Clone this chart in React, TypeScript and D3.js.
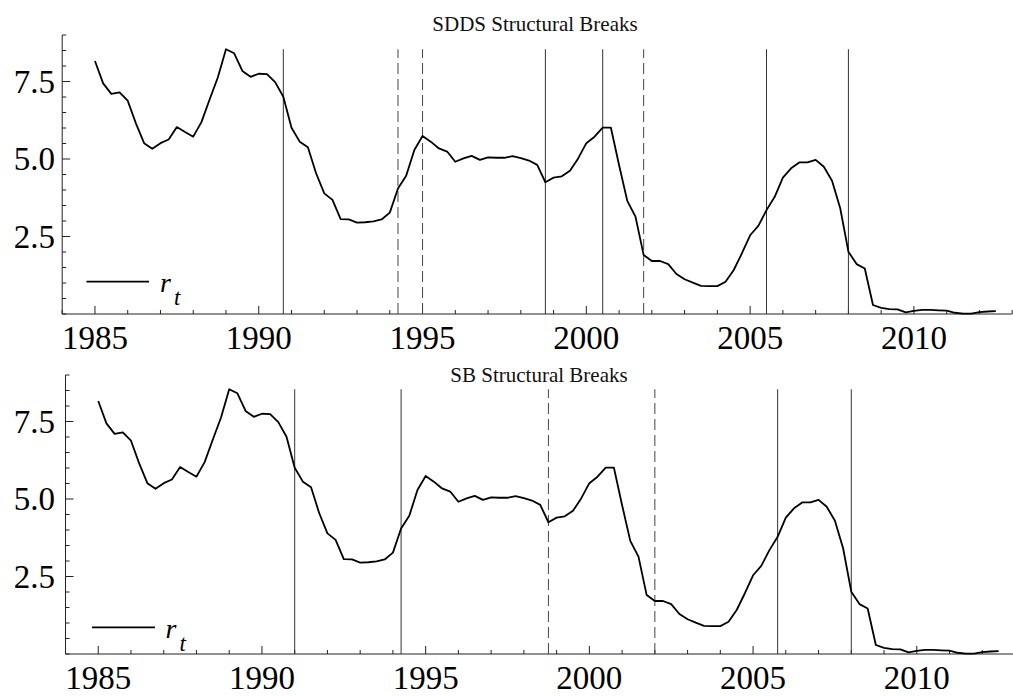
import React from "react";
import * as d3 from "d3";

// quarterly rate r_t, 1985Q1 .. 2012Q3
const startYear = 1985;
const rates: number[] = [
  8.16, 7.44, 7.10, 7.15,
  6.88, 6.15, 5.51, 5.33,
  5.51, 5.63, 6.03, 5.87,
  5.72, 6.19, 6.92, 7.63,
  8.54, 8.41, 7.84, 7.65,
  7.75, 7.74, 7.48, 7.01,
  6.01, 5.56, 5.38, 4.54,
  3.89, 3.68, 3.06, 3.05,
  2.95, 2.96, 2.99, 3.05,
  3.27, 4.05, 4.46, 5.29,
  5.74, 5.56, 5.34, 5.24,
  4.91, 5.02, 5.10, 4.97,
  5.05, 5.04, 5.04, 5.09,
  5.03, 4.95, 4.81, 4.25,
  4.40, 4.44, 4.62, 5.02,
  5.51, 5.72, 6.01, 6.01,
  4.80, 3.65, 3.14, 1.90,
  1.71, 1.71, 1.61, 1.29,
  1.12, 1.01, 0.91, 0.90,
  0.90, 1.04, 1.42, 1.96,
  2.54, 2.84, 3.35, 3.78,
  4.40, 4.70, 4.89, 4.89,
  4.97, 4.75, 4.30, 3.41,
  2.01, 1.61, 1.47, 0.29,
  0.20, 0.16, 0.15, 0.05,
  0.10, 0.13, 0.13, 0.12,
  0.11, 0.04, 0.01, 0.01,
  0.06, 0.08, 0.09,
];
const dates: number[] = rates.map((_, i) => startYear + i / 4);

const sddsSolid: number[] = [1990.75, 1998.75, 2000.5, 2005.5, 2008.0];
const sddsDashed: number[] = [1994.25, 1995.0, 2001.75];
const sbSolid: number[] = [1991.0, 1994.25, 2005.75, 2008.0];
const sbDashed: number[] = [1998.75, 2002.0];

const xMajorTicks: number[] = [1985, 1990, 1995, 2000, 2005, 2010];
const yMajorTicks: number[] = [2.5, 5.0, 7.5];
const titles: string[] = ["SDDS Structural Breaks", "SB Structural Breaks"];

const FONT = "'Liberation Serif', 'DejaVu Serif', serif";

type PanelCfg = {
  title: string;
  solid: number[];
  dashed: number[];
  x0: number;
  x1: number;
  yBottom: number;
  yTop: number;
  titleX: number;
  titleY: number;
  yLabelX: number;
  legY: number;
  legX0: number;
  legX1: number;
  rX: number;
  rY: number;
  tY: number;
};

const panels: PanelCfg[] = [
  {
    title: titles[0], solid: sddsSolid, dashed: sddsDashed,
    x0: 62.2, x1: 1012.2, yBottom: 314, yTop: 35,
    titleX: 535, titleY: 30.5, yLabelX: 55,
    legY: 281.7, legX0: 86.5, legX1: 149, rX: 160, rY: 292, tY: 305,
  },
  {
    title: titles[1], solid: sbSolid, dashed: sbDashed,
    x0: 65.5, x1: 1015, yBottom: 654, yTop: 375,
    titleX: 539, titleY: 381.5, yLabelX: 55,
    legY: 627.3, legX0: 92, legX1: 155, rX: 165.5, rY: 638, tY: 651,
  },
];

function Panel({ cfg }: { cfg: PanelCfg }) {
  const x = d3.scaleLinear().domain([1984, 2013]).range([cfg.x0, cfg.x1]);
  const y = d3.scaleLinear().domain([0, 9]).range([cfg.yBottom, cfg.yTop]);
  const line = d3
    .line<number>()
    .x((_, i) => x(dates[i]))
    .y((d) => y(d));
  const maxR = d3.max(rates) as number;
  const xMinor = d3.range(1984, 2014, 1);
  const yMinor = d3.range(0, 9.01, 0.5);
  const axisColor = "#222";
  return (
    <g>
      <text x={cfg.titleX} y={cfg.titleY} textAnchor="middle" fontFamily={FONT} fontSize={21} fill="#111">
        {cfg.title}
      </text>
      {/* axes */}
      <line x1={x(1984)} x2={x(2013)} y1={y(0)} y2={y(0)} stroke={axisColor} strokeWidth={1} />
      <line x1={x(1984)} x2={x(1984)} y1={y(0)} y2={y(9)} stroke={axisColor} strokeWidth={1} />
      {xMinor.map((t) => {
        const major = xMajorTicks.includes(t);
        return (
          <line key={"xt" + t} x1={x(t)} x2={x(t)} y1={y(0)} y2={y(0) - (major ? 8 : 4)} stroke={axisColor} strokeWidth={1} />
        );
      })}
      {yMinor.map((t) => {
        const major = yMajorTicks.some((m) => Math.abs(m - t) < 1e-6);
        return (
          <line key={"yt" + t} x1={x(1984)} x2={x(1984) + (major ? 8 : 4)} y1={y(t)} y2={y(t)} stroke={axisColor} strokeWidth={1} />
        );
      })}
      {xMajorTicks.map((t) => (
        <text key={"xl" + t} x={x(t)} y={y(0) + 35} textAnchor="middle" fontFamily={FONT} fontSize={33} fill="#000">
          {String(t)}
        </text>
      ))}
      {yMajorTicks.map((t) => (
        <text key={"yl" + t} x={cfg.yLabelX} y={y(t)} dy="0.34em" textAnchor="end" fontFamily={FONT} fontSize={33} fill="#000">
          {t.toFixed(1)}
        </text>
      ))}
      {/* break lines */}
      {cfg.solid.map((b) => (
        <line key={"s" + b} x1={x(b)} x2={x(b)} y1={y(0)} y2={y(maxR)} stroke="#333" strokeWidth={1} />
      ))}
      {cfg.dashed.map((b) => (
        <line key={"d" + b} x1={x(b)} x2={x(b)} y1={y(0)} y2={y(maxR)} stroke="#444" strokeWidth={1} strokeDasharray="11,5" />
      ))}
      {/* series */}
      <path d={line(rates) || ""} fill="none" stroke="#000" strokeWidth={1.8} strokeLinejoin="round" />
      {/* legend */}
      <line x1={cfg.legX0} x2={cfg.legX1} y1={cfg.legY} y2={cfg.legY} stroke="#000" strokeWidth={1.8} />
      <text x={cfg.rX} y={cfg.rY} fontFamily={FONT} fontStyle="italic" fontSize={28} fill="#000">r</text>
      <text x={cfg.rX + 14} y={cfg.tY} fontFamily={FONT} fontStyle="italic" fontSize={23} fill="#000">t</text>
    </g>
  );
}

export default function App() {
  return (
    <svg
      width={1013}
      height={696}
      style={{ position: "absolute", left: 0, top: 0, background: "#fff" }}
    >
      <rect x={0} y={0} width={1013} height={696} fill="#fff" />
      {panels.map((p) => (
        <Panel key={p.title} cfg={p} />
      ))}
    </svg>
  );
}
